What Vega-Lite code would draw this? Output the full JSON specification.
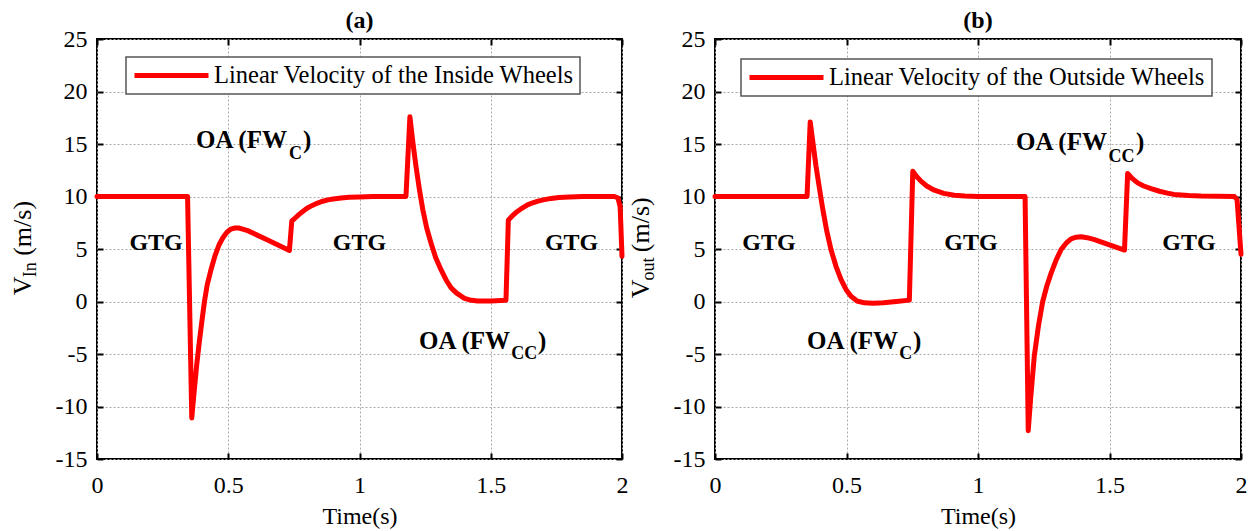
{
  "$schema": "https://vega.github.io/schema/vega-lite/v6.json",
  "padding": {"left": 9, "top": 8, "right": 0, "bottom": 0},
  "background": "white",
  "bounds": "flush",
  "spacing": 93,
  "resolve": {"scale": {"color": "independent"}},
  "config": {
    "view": {"stroke": "black", "strokeWidth": 2},
    "font": "Liberation Serif",
    "axis": {
      "labelFont": "Liberation Serif", "labelFontSize": 24, "labelColor": "black",
      "titleFont": "Liberation Serif", "titleFontSize": 24, "titleFontWeight": "normal", "titleColor": "black",
      "domain": false, "tickColor": "black", "tickWidth": 2, "tickSize": -6,
      "gridColor": "#a8a8a8", "gridDash": [2, 2], "gridWidth": 1
    },
    "title": {"font": "Liberation Serif", "fontSize": 24, "fontWeight": "bold", "color": "black", "baseline": "alphabetic", "offset": -6, "frame": "group", "anchor": "middle"},
    "legend": {
      "orient": "none", "title": null, "symbolType": "stroke", "symbolSize": 5476, "symbolStrokeWidth": 5,
      "clipHeight": 25, "padding": 6, "labelOffset": 3, "labelFont": "Liberation Serif", "labelFontSize": 24.5,
      "labelColor": "black", "labelLimit": 1000, "strokeColor": "#555555", "strokeWidth": 1.5, "fillColor": "white"
    }
  },
  "datasets": {
    "inside": [
      {"t": 0, "v": 10}, {"t": 0.345, "v": 10}, {"t": 0.361, "v": -11.1}, {"t": 0.37, "v": -8.6},
      {"t": 0.38, "v": -6.0}, {"t": 0.39, "v": -3.8}, {"t": 0.4, "v": -1.8}, {"t": 0.41, "v": 0.1},
      {"t": 0.42, "v": 1.6}, {"t": 0.435, "v": 3.1}, {"t": 0.45, "v": 4.4}, {"t": 0.465, "v": 5.4},
      {"t": 0.48, "v": 6.1}, {"t": 0.495, "v": 6.6}, {"t": 0.51, "v": 6.9}, {"t": 0.525, "v": 7.0},
      {"t": 0.54, "v": 7.0}, {"t": 0.555, "v": 6.9}, {"t": 0.574, "v": 6.75}, {"t": 0.65, "v": 5.85},
      {"t": 0.733, "v": 4.86}, {"t": 0.742, "v": 7.65}, {"t": 0.755, "v": 7.95}, {"t": 0.77, "v": 8.3},
      {"t": 0.785, "v": 8.6}, {"t": 0.8, "v": 8.88}, {"t": 0.82, "v": 9.15}, {"t": 0.84, "v": 9.38},
      {"t": 0.86, "v": 9.55}, {"t": 0.88, "v": 9.68}, {"t": 0.9, "v": 9.77}, {"t": 0.93, "v": 9.86},
      {"t": 0.96, "v": 9.92}, {"t": 1.0, "v": 9.96}, {"t": 1.05, "v": 9.99}, {"t": 1.177, "v": 10},
      {"t": 1.192, "v": 17.6}, {"t": 1.203, "v": 15.2}, {"t": 1.215, "v": 12.9}, {"t": 1.228, "v": 10.7},
      {"t": 1.241, "v": 8.76}, {"t": 1.256, "v": 7.0}, {"t": 1.272, "v": 5.6}, {"t": 1.29, "v": 4.2},
      {"t": 1.31, "v": 3.05}, {"t": 1.33, "v": 2.05}, {"t": 1.349, "v": 1.3}, {"t": 1.37, "v": 0.8},
      {"t": 1.4, "v": 0.3}, {"t": 1.42, "v": 0.15}, {"t": 1.45, "v": 0.05}, {"t": 1.5, "v": 0.05},
      {"t": 1.558, "v": 0.12}, {"t": 1.567, "v": 7.75}, {"t": 1.58, "v": 8.1}, {"t": 1.6, "v": 8.55},
      {"t": 1.62, "v": 8.9}, {"t": 1.64, "v": 9.2}, {"t": 1.66, "v": 9.4}, {"t": 1.68, "v": 9.56},
      {"t": 1.7, "v": 9.68}, {"t": 1.73, "v": 9.82}, {"t": 1.76, "v": 9.9}, {"t": 1.8, "v": 9.96},
      {"t": 1.85, "v": 9.99}, {"t": 1.971, "v": 10}, {"t": 1.985, "v": 9.85}, {"t": 1.993, "v": 9.0},
      {"t": 2.0, "v": 4.3}
    ],
    "outside": [
      {"t": 0, "v": 10}, {"t": 0.35, "v": 10}, {"t": 0.362, "v": 17.1}, {"t": 0.373, "v": 15.0},
      {"t": 0.384, "v": 12.9}, {"t": 0.397, "v": 10.8}, {"t": 0.41, "v": 8.76}, {"t": 0.425, "v": 6.7},
      {"t": 0.441, "v": 4.95}, {"t": 0.46, "v": 3.35}, {"t": 0.479, "v": 2.1}, {"t": 0.498, "v": 1.15},
      {"t": 0.517, "v": 0.5}, {"t": 0.54, "v": 0.05}, {"t": 0.568, "v": -0.13}, {"t": 0.6, "v": -0.17},
      {"t": 0.64, "v": -0.12}, {"t": 0.69, "v": 0.0}, {"t": 0.739, "v": 0.13}, {"t": 0.752, "v": 12.4},
      {"t": 0.765, "v": 11.95}, {"t": 0.783, "v": 11.46}, {"t": 0.805, "v": 11.0}, {"t": 0.834, "v": 10.6},
      {"t": 0.87, "v": 10.3}, {"t": 0.91, "v": 10.12}, {"t": 0.95, "v": 10.04}, {"t": 1.0, "v": 10.0},
      {"t": 1.179, "v": 10}, {"t": 1.191, "v": -12.3}, {"t": 1.2, "v": -9.3}, {"t": 1.214, "v": -5.2},
      {"t": 1.23, "v": -2.3}, {"t": 1.246, "v": 0}, {"t": 1.262, "v": 1.5}, {"t": 1.278, "v": 2.7},
      {"t": 1.297, "v": 3.95}, {"t": 1.316, "v": 4.95}, {"t": 1.335, "v": 5.55}, {"t": 1.354, "v": 5.97},
      {"t": 1.373, "v": 6.12}, {"t": 1.392, "v": 6.16}, {"t": 1.415, "v": 6.08}, {"t": 1.443, "v": 5.9},
      {"t": 1.5, "v": 5.4}, {"t": 1.557, "v": 4.9}, {"t": 1.569, "v": 12.2}, {"t": 1.585, "v": 11.75},
      {"t": 1.607, "v": 11.3}, {"t": 1.63, "v": 11.0}, {"t": 1.658, "v": 10.75}, {"t": 1.69, "v": 10.5},
      {"t": 1.72, "v": 10.32}, {"t": 1.745, "v": 10.2}, {"t": 1.8, "v": 10.1}, {"t": 1.848, "v": 10.05},
      {"t": 1.975, "v": 10.0}, {"t": 1.985, "v": 9.7}, {"t": 2.0, "v": 4.5}
    ],
    "gtgA": [{"t": 0.225, "v": 4.9, "label": "GTG"}, {"t": 1.0, "v": 4.9, "label": "GTG"}, {"t": 1.808, "v": 4.9, "label": "GTG"}],
    "gtgB": [{"t": 0.205, "v": 4.9, "label": "GTG"}, {"t": 0.973, "v": 4.9, "label": "GTG"}, {"t": 1.802, "v": 4.9, "label": "GTG"}],
    "oaA": [{"t": 0.377, "v": 14.64, "label": "OA (FW"}, {"t": 0.785, "v": 14.64, "label": ")"}, {"t": 1.227, "v": -4.5, "label": "OA (FW"}, {"t": 1.68, "v": -4.5, "label": ")"}],
    "oaAsub": [{"t": 0.731, "v": 13.6, "label": "C"}, {"t": 1.578, "v": -5.45, "label": "CC"}],
    "oaB": [{"t": 0.35, "v": -4.57, "label": "OA (FW"}, {"t": 0.753, "v": -4.57, "label": ")"}, {"t": 1.1445, "v": 14.41, "label": "OA (FW"}, {"t": 1.601, "v": 14.41, "label": ")"}],
    "oaBsub": [{"t": 0.701, "v": -5.52, "label": "C"}, {"t": 1.496, "v": 13.27, "label": "CC"}],
    "ytA": [{"t": -0.251, "v": 0.6, "label": "V"}, {"t": -0.251, "v": 4.35, "label": "(m/s)"}],
    "ytAsub": [{"t": -0.232, "v": 2.3, "label": "In"}],
    "ytB": [{"t": -0.251, "v": 0.3, "label": "V"}, {"t": -0.251, "v": 4.7, "label": "(m/s)"}],
    "ytBsub": [{"t": -0.232, "v": 2.0, "label": "out"}]
  },
  "hconcat": [
    {
      "width": 525, "height": 420,
      "title": {"text": "(a)"},
      "resolve": {"axis": {"x": "independent", "y": "independent"}},
      "layer": [
        {
          "data": {"name": "inside"},
          "mark": {"type": "line", "strokeWidth": 5, "strokeCap": "round", "strokeJoin": "round"},
          "encoding": {
            "x": {"field": "t", "type": "quantitative", "scale": {"domain": [0, 2], "nice": false},
                  "axis": {"orient": "bottom", "values": [0, 0.5, 1, 1.5, 2], "format": "~g", "labelFlush": false, "labelPadding": 20, "title": "Time(s)", "titlePadding": 7, "grid": true}},
            "y": {"field": "v", "type": "quantitative", "scale": {"domain": [-15, 25], "nice": false},
                  "axis": {"orient": "left", "values": [-15, -10, -5, 0, 5, 10, 15, 20, 25], "labelExpr": "'' + datum.value", "labelPadding": 16, "title": null, "grid": true}},
            "color": {"datum": "Linear Velocity of the Inside Wheels", "type": "nominal", "scale": {"range": ["#ff0000"]}, "legend": {"legendX": 29, "legendY": 18}}
          }
        },
        {
          "data": {"name": "gtgA"},
          "mark": {"type": "text", "font": "Liberation Serif", "fontSize": 24, "fontWeight": "bold", "align": "center", "baseline": "alphabetic", "color": "black"},
          "encoding": {
            "x": {"field": "t", "type": "quantitative", "scale": {"domain": [0, 2], "nice": false},
                  "axis": {"orient": "top", "values": [0, 0.5, 1, 1.5, 2], "labels": false, "grid": false, "title": null}},
            "y": {"field": "v", "type": "quantitative", "scale": {"domain": [-15, 25], "nice": false},
                  "axis": {"orient": "right", "values": [-15, -10, -5, 0, 5, 10, 15, 20, 25], "labels": false, "grid": false, "title": null}},
            "text": {"field": "label"}
          }
        },
        {
          "data": {"name": "oaA"},
          "mark": {"type": "text", "font": "Liberation Serif", "fontSize": 25, "fontWeight": "bold", "align": "left", "baseline": "alphabetic", "color": "black"},
          "encoding": {
            "x": {"field": "t", "type": "quantitative", "scale": {"domain": [0, 2], "nice": false}, "axis": null},
            "y": {"field": "v", "type": "quantitative", "scale": {"domain": [-15, 25], "nice": false}, "axis": null},
            "text": {"field": "label"}
          }
        },
        {
          "data": {"name": "oaAsub"},
          "mark": {"type": "text", "font": "Liberation Serif", "fontSize": 18, "fontWeight": "bold", "align": "left", "baseline": "alphabetic", "color": "black"},
          "encoding": {
            "x": {"field": "t", "type": "quantitative", "scale": {"domain": [0, 2], "nice": false}, "axis": null},
            "y": {"field": "v", "type": "quantitative", "scale": {"domain": [-15, 25], "nice": false}, "axis": null},
            "text": {"field": "label"}
          }
        },
        {
          "data": {"name": "ytA"},
          "mark": {"type": "text", "font": "Liberation Serif", "fontSize": 26, "angle": 270, "align": "left", "baseline": "alphabetic", "color": "black"},
          "encoding": {
            "x": {"field": "t", "type": "quantitative", "scale": {"domain": [0, 2], "nice": false}, "axis": null},
            "y": {"field": "v", "type": "quantitative", "scale": {"domain": [-15, 25], "nice": false}, "axis": null},
            "text": {"field": "label"}
          }
        },
        {
          "data": {"name": "ytAsub"},
          "mark": {"type": "text", "font": "Liberation Serif", "fontSize": 18, "angle": 270, "align": "left", "baseline": "alphabetic", "color": "black"},
          "encoding": {
            "x": {"field": "t", "type": "quantitative", "scale": {"domain": [0, 2], "nice": false}, "axis": null},
            "y": {"field": "v", "type": "quantitative", "scale": {"domain": [-15, 25], "nice": false}, "axis": null},
            "text": {"field": "label"}
          }
        }
      ]
    },
    {
      "width": 526, "height": 420,
      "title": {"text": "(b)"},
      "resolve": {"axis": {"x": "independent", "y": "independent"}},
      "layer": [
        {
          "data": {"name": "outside"},
          "mark": {"type": "line", "strokeWidth": 5, "strokeCap": "round", "strokeJoin": "round"},
          "encoding": {
            "x": {"field": "t", "type": "quantitative", "scale": {"domain": [0, 2], "nice": false},
                  "axis": {"orient": "bottom", "values": [0, 0.5, 1, 1.5, 2], "format": "~g", "labelFlush": false, "labelPadding": 20, "title": "Time(s)", "titlePadding": 7, "grid": true}},
            "y": {"field": "v", "type": "quantitative", "scale": {"domain": [-15, 25], "nice": false},
                  "axis": {"orient": "left", "values": [-15, -10, -5, 0, 5, 10, 15, 20, 25], "labelExpr": "'' + datum.value", "labelPadding": 16, "title": null, "grid": true}},
            "color": {"datum": "Linear Velocity of the Outside Wheels", "type": "nominal", "scale": {"range": ["#ff0000"]}, "legend": {"legendX": 26, "legendY": 20}}
          }
        },
        {
          "data": {"name": "gtgB"},
          "mark": {"type": "text", "font": "Liberation Serif", "fontSize": 24, "fontWeight": "bold", "align": "center", "baseline": "alphabetic", "color": "black"},
          "encoding": {
            "x": {"field": "t", "type": "quantitative", "scale": {"domain": [0, 2], "nice": false},
                  "axis": {"orient": "top", "values": [0, 0.5, 1, 1.5, 2], "labels": false, "grid": false, "title": null}},
            "y": {"field": "v", "type": "quantitative", "scale": {"domain": [-15, 25], "nice": false},
                  "axis": {"orient": "right", "values": [-15, -10, -5, 0, 5, 10, 15, 20, 25], "labels": false, "grid": false, "title": null}},
            "text": {"field": "label"}
          }
        },
        {
          "data": {"name": "oaB"},
          "mark": {"type": "text", "font": "Liberation Serif", "fontSize": 25, "fontWeight": "bold", "align": "left", "baseline": "alphabetic", "color": "black"},
          "encoding": {
            "x": {"field": "t", "type": "quantitative", "scale": {"domain": [0, 2], "nice": false}, "axis": null},
            "y": {"field": "v", "type": "quantitative", "scale": {"domain": [-15, 25], "nice": false}, "axis": null},
            "text": {"field": "label"}
          }
        },
        {
          "data": {"name": "oaBsub"},
          "mark": {"type": "text", "font": "Liberation Serif", "fontSize": 18, "fontWeight": "bold", "align": "left", "baseline": "alphabetic", "color": "black"},
          "encoding": {
            "x": {"field": "t", "type": "quantitative", "scale": {"domain": [0, 2], "nice": false}, "axis": null},
            "y": {"field": "v", "type": "quantitative", "scale": {"domain": [-15, 25], "nice": false}, "axis": null},
            "text": {"field": "label"}
          }
        },
        {
          "data": {"name": "ytB"},
          "mark": {"type": "text", "font": "Liberation Serif", "fontSize": 26, "angle": 270, "align": "left", "baseline": "alphabetic", "color": "black"},
          "encoding": {
            "x": {"field": "t", "type": "quantitative", "scale": {"domain": [0, 2], "nice": false}, "axis": null},
            "y": {"field": "v", "type": "quantitative", "scale": {"domain": [-15, 25], "nice": false}, "axis": null},
            "text": {"field": "label"}
          }
        },
        {
          "data": {"name": "ytBsub"},
          "mark": {"type": "text", "font": "Liberation Serif", "fontSize": 18, "angle": 270, "align": "left", "baseline": "alphabetic", "color": "black"},
          "encoding": {
            "x": {"field": "t", "type": "quantitative", "scale": {"domain": [0, 2], "nice": false}, "axis": null},
            "y": {"field": "v", "type": "quantitative", "scale": {"domain": [-15, 25], "nice": false}, "axis": null},
            "text": {"field": "label"}
          }
        }
      ]
    }
  ]
}
